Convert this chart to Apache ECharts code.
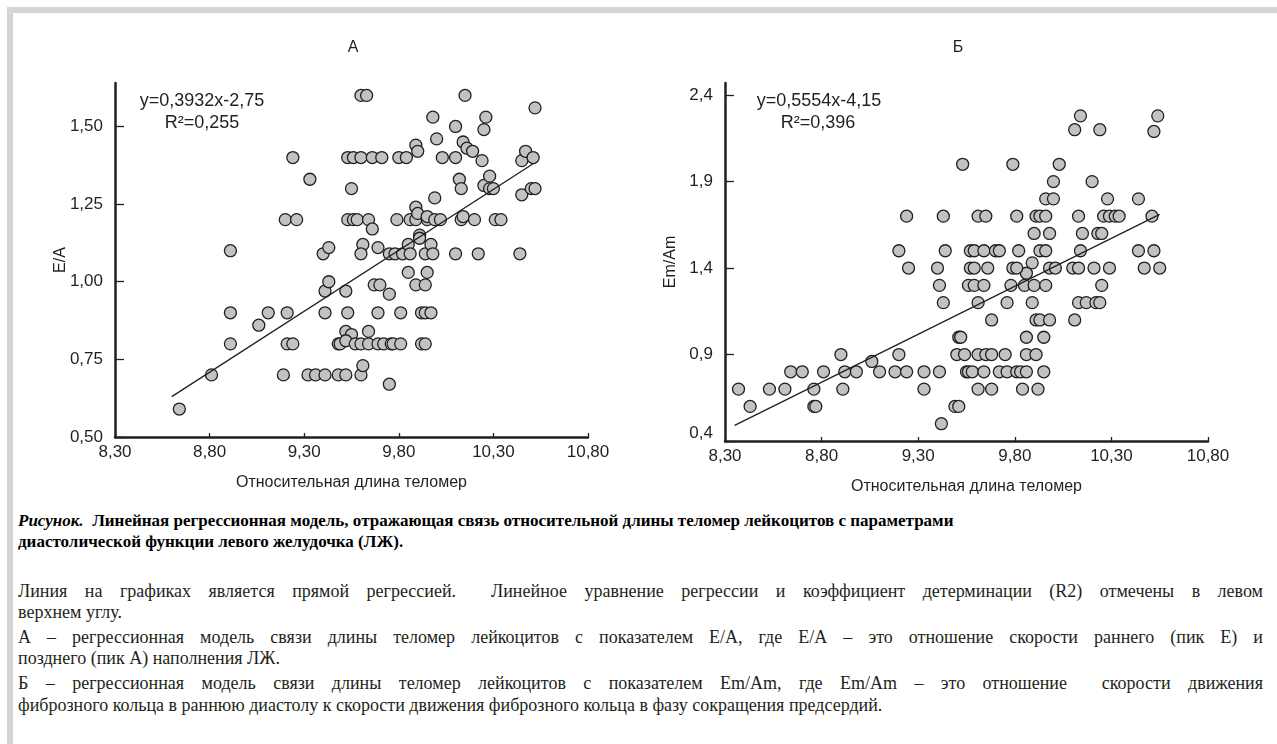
<!DOCTYPE html>
<html>
<head>
	<meta charset="utf-8">
	<title>Теломеры и диастолическая функция</title>
	<script src="https://cdn.jsdelivr.net/npm/echarts@6/dist/echarts.min.js"></script>
	<style type="text/css">
		* {
			margin: 0;
			padding: 0;
		}

		body {
			width: 1277px;
			height: 744px;
			overflow: hidden;
			background: #fff;
			position: relative;
		}

		.frameTop {
			position: absolute;
			left: 7px;
			top: 7px;
			width: 1270px;
			height: 6px;
			background: #d5d5d5;
		}

		.frameLeft {
			position: absolute;
			left: 7px;
			top: 7px;
			width: 6px;
			height: 737px;
			background: #d5d5d5;
		}

		#main {
			position: absolute;
			left: 0;
			top: 0;
			width: 1277px;
			height: 500px;
		}

		.ln {
			position: absolute;
			left: 18px;
			width: 1245px;
			font-family: 'Liberation Serif', 'DejaVu Serif', serif;
			font-size: 18px;
			line-height: 20px;
			color: #231f20;
			white-space: nowrap;
		}

		.j {
			text-align: justify;
			text-align-last: justify;
			white-space: normal;
		}

		.cap {
			font-size: 17px;
			font-weight: bold;
			color: #000;
		}
	</style>
</head>
<body>
<div class="frameTop"></div>
<div class="frameLeft"></div>
<div id="main"></div>

<div class="ln cap" style="top:511px"><i>Рисунок.</i>&nbsp; Линейная регрессионная модель, отражающая связь относительной длины теломер лейкоцитов с параметрами</div>
<div class="ln cap" style="top:532px">диастолической функции левого желудочка (ЛЖ).</div>

<div class="ln j" style="top:581px">Линия на графиках является прямой регрессией.&nbsp; Линейное уравнение регрессии и коэффициент детерминации (R2) отмечены в левом</div>
<div class="ln" style="top:602px">верхнем углу.</div>
<div class="ln j" style="top:627px">А – регрессионная модель связи длины теломер лейкоцитов с показателем Е/А, где Е/А – это отношение скорости раннего (пик Е) и</div>
<div class="ln" style="top:648px">позднего (пик А) наполнения ЛЖ.</div>
<div class="ln j" style="top:673px">Б – регрессионная модель связи длины теломер лейкоцитов с показателем Em/Am, где Em/Am – это отношение&nbsp; скорости движения</div>
<div class="ln" style="top:695px">фиброзного кольца в раннюю диастолу к скорости движения фиброзного кольца в фазу сокращения предсердий.</div>
</body>
<script type="text/javascript">
    // ---- данные ----
    var ticksX = [8.3, 8.8, 9.3, 9.8, 10.3, 10.8];
    var ticksYA = [0.5, 0.75, 1.0, 1.25, 1.5];
    var ticksYB = [0.4, 0.9, 1.4, 1.9, 2.4];

    // А: длина теломер / E/A
    var pointsA = [
        [8.64, 0.59], [8.81, 0.70], [8.91, 0.90], [8.91, 0.80], [8.91, 1.10],
        [9.06, 0.86], [9.11, 0.90], [9.19, 0.70], [9.20, 1.20], [9.21, 0.90],
        [9.21, 0.80], [9.24, 0.80], [9.24, 1.40], [9.26, 1.20], [9.33, 1.33],
        [9.32, 0.70], [9.36, 0.70], [9.40, 1.09], [9.43, 1.11], [9.41, 0.97],
        [9.43, 1.00], [9.41, 0.90], [9.41, 0.70], [9.48, 0.70], [9.52, 0.70],
        [9.48, 0.80], [9.49, 0.80], [9.52, 0.97], [9.53, 0.90], [9.52, 0.84],
        [9.55, 0.83], [9.52, 0.81], [9.57, 0.80], [9.55, 1.30], [9.53, 1.40],
        [9.56, 1.40], [9.60, 1.40], [9.60, 1.60], [9.63, 1.60], [9.53, 1.20],
        [9.56, 1.20], [9.58, 1.20], [9.64, 1.20], [9.66, 1.17], [9.61, 1.12],
        [9.60, 1.09], [9.69, 1.11], [9.60, 0.70], [9.61, 0.73], [9.64, 0.84],
        [9.60, 0.80], [9.64, 0.80], [9.66, 1.40], [9.67, 0.99], [9.70, 0.99],
        [9.69, 0.90], [9.69, 0.80], [9.72, 0.80], [9.71, 1.40], [9.75, 0.96],
        [9.75, 0.67], [9.76, 0.80], [9.77, 0.80], [9.75, 1.09], [9.78, 1.09],
        [9.79, 1.20], [9.80, 1.40], [9.81, 0.80], [9.81, 0.90], [9.82, 1.09],
        [9.84, 1.40], [9.85, 1.03], [9.85, 1.12], [9.86, 1.09], [9.86, 1.20],
        [9.89, 1.20], [9.89, 1.24], [9.90, 1.22], [9.89, 1.44], [9.90, 1.42],
        [9.89, 0.99], [9.91, 1.15], [9.91, 1.14], [9.92, 0.90], [9.92, 0.80],
        [9.94, 0.99], [9.94, 0.90], [9.94, 0.80], [9.94, 1.09], [9.95, 1.20],
        [9.95, 1.21], [9.95, 1.03], [9.97, 0.90], [9.97, 1.12], [9.98, 1.09],
        [9.98, 1.53], [9.99, 1.27], [9.99, 1.20], [10.00, 1.46], [10.02, 1.20],
        [10.03, 1.40], [10.10, 1.50], [10.10, 1.40], [10.10, 1.09], [10.12, 1.33],
        [10.13, 1.30], [10.13, 1.20], [10.14, 1.21], [10.14, 1.45], [10.15, 1.60],
        [10.16, 1.43], [10.19, 1.42], [10.20, 1.20], [10.22, 1.09], [10.24, 1.39],
        [10.25, 1.49], [10.26, 1.53], [10.25, 1.31], [10.28, 1.34], [10.28, 1.30],
        [10.30, 1.30], [10.31, 1.20], [10.34, 1.20], [10.44, 1.09], [10.45, 1.39],
        [10.45, 1.28], [10.47, 1.42], [10.50, 1.30], [10.51, 1.40], [10.52, 1.30],
        [10.52, 1.56]
    ];

    // Б: длина теломер / Em/Am
    var pointsB = [
        [10.14, 2.28], [10.54, 2.28],
        [10.11, 2.20], [10.24, 2.20], [10.52, 2.19],
        [9.53, 2.00], [9.79, 2.00], [10.03, 2.00],
        [10.00, 1.90], [10.20, 1.90],
        [9.96, 1.80], [10.00, 1.80], [10.28, 1.80], [10.44, 1.80],
        [9.24, 1.70], [9.43, 1.70], [9.61, 1.70], [9.65, 1.70], [9.81, 1.70], [9.91, 1.70], [9.93, 1.70],
        [9.96, 1.70], [10.13, 1.70], [10.26, 1.70], [10.29, 1.70], [10.32, 1.70], [10.34, 1.70], [10.51, 1.70],
        [9.90, 1.60], [9.98, 1.60], [10.15, 1.60], [10.23, 1.60], [10.25, 1.60],
        [9.20, 1.50], [9.44, 1.50], [9.57, 1.50], [9.59, 1.50], [9.64, 1.50], [9.70, 1.50], [9.72, 1.50],
        [9.82, 1.50], [9.93, 1.50], [9.96, 1.50], [10.14, 1.50], [10.44, 1.50], [10.52, 1.50],
        [9.89, 1.43], [9.86, 1.37],
        [9.25, 1.40], [9.40, 1.40], [9.57, 1.40], [9.59, 1.40], [9.66, 1.40], [9.79, 1.40], [9.81, 1.40],
        [9.98, 1.40], [10.01, 1.40], [10.10, 1.40], [10.13, 1.40], [10.21, 1.40], [10.29, 1.40], [10.47, 1.40], [10.55, 1.40],
        [9.41, 1.30], [9.56, 1.30], [9.59, 1.30], [9.64, 1.30], [9.78, 1.30], [9.85, 1.30], [9.90, 1.30], [9.96, 1.30], [10.25, 1.30],
        [9.43, 1.20], [9.61, 1.20], [9.76, 1.20], [9.89, 1.20], [10.13, 1.20], [10.17, 1.20], [10.22, 1.20], [10.24, 1.20],
        [9.68, 1.10], [9.91, 1.10], [9.93, 1.10], [9.98, 1.10], [10.11, 1.10],
        [9.51, 1.00], [9.52, 1.00], [9.86, 1.00], [9.95, 1.00],
        [8.90, 0.90], [9.20, 0.90], [9.50, 0.90], [9.54, 0.90], [9.61, 0.90], [9.65, 0.90], [9.68, 0.90],
        [9.75, 0.90], [9.86, 0.90], [9.91, 0.90],
        [9.06, 0.86],
        [8.64, 0.80], [8.70, 0.80], [8.81, 0.80], [8.92, 0.80], [8.98, 0.80], [9.10, 0.80], [9.18, 0.80],
        [9.24, 0.80], [9.33, 0.80], [9.41, 0.80], [9.55, 0.80], [9.56, 0.80], [9.58, 0.80], [9.64, 0.80],
        [9.72, 0.80], [9.76, 0.80], [9.81, 0.80], [9.83, 0.80], [9.86, 0.80], [9.95, 0.80],
        [8.37, 0.70], [8.53, 0.70], [8.61, 0.70], [8.76, 0.70], [8.91, 0.70], [9.33, 0.70], [9.61, 0.70],
        [9.68, 0.70], [9.84, 0.70], [9.92, 0.70],
        [8.43, 0.60], [8.76, 0.60], [8.77, 0.60], [9.49, 0.60], [9.51, 0.60],
        [9.42, 0.50]
    ];

    // концы линий регрессии
    var lineA = [[8.60, 0.63], [10.51, 1.38]];
    var lineB = [[8.35, 0.49], [10.55, 1.71]];

    var ink = '#231f20';
    var font = 'Liberation Sans';

    function fmt(v, d) {
        return v.toFixed(d).replace('.', ',');
    }

    function xAxisCfg(gridIndex) {
        return {
            gridIndex: gridIndex,
            type: 'value',
            min: 8.3,
            max: 10.8,
            name: 'Относительная длина теломер',
            nameLocation: 'middle',
            nameGap: 38,
            nameMoveOverlap: false,
            nameTextStyle: {color: ink, fontFamily: font, fontSize: 16},
            splitLine: {show: false},
            axisLine: {lineStyle: {color: ink, width: 2.5}},
            axisTick: {inside: true, length: 4, customValues: ticksX, lineStyle: {color: ink, width: 1.3}},
            axisLabel: {
                customValues: ticksX, margin: 7, color: ink, fontFamily: font, fontSize: 17,
                formatter: function (v) { return fmt(v, 2); }
            }
        };
    }

    function yAxisCfg(gridIndex, name, min, max, ticks, dec) {
        return {
            gridIndex: gridIndex,
            type: 'value',
            min: min,
            max: max,
            name: name,
            nameLocation: 'middle',
            nameRotate: 90,
            nameGap: 46,
            nameMoveOverlap: false,
            nameTextStyle: {color: ink, fontFamily: font, fontSize: 16},
            splitLine: {show: false},
            axisLine: {lineStyle: {color: ink, width: 2.5}},
            axisTick: {inside: true, length: 9, customValues: ticks, lineStyle: {color: ink, width: 1.3}},
            axisLabel: {
                customValues: ticks, margin: 12, color: ink, fontFamily: font, fontSize: 17,
                formatter: function (v) {
                    // нижняя подпись на графике Б чуть приподнята
                    if (dec === 1 && Math.abs(v - min) < 1e-6) return '{low|' + fmt(v, dec) + '}';
                    return fmt(v, dec);
                },
                rich: {low: {fontFamily: font, fontSize: 17, color: ink, padding: [0, 0, 16, 0]}}
            }
        };
    }

    function dots(idx, data) {
        return {
            type: 'scatter',
            xAxisIndex: idx,
            yAxisIndex: idx,
            data: data,
            symbol: 'circle',
            symbolSize: 12,
            itemStyle: {color: '#c1c2c4', borderColor: ink, borderWidth: 1.3, opacity: 1},
            z: 3
        };
    }

    function regLine(idx, data) {
        return {
            type: 'line',
            xAxisIndex: idx,
            yAxisIndex: idx,
            data: data,
            symbol: 'none',
            lineStyle: {color: ink, width: 1.3},
            z: 4
        };
    }

    function label(x, y, text, size) {
        return {
            type: 'text',
            x: x,
            y: y,
            style: {text: text, fill: ink, font: size + 'px ' + font, textAlign: 'center', textVerticalAlign: 'middle'}
        };
    }

    var myChart = echarts.init(document.getElementById('main'));
    var option = {
        animation: false,
        backgroundColor: 'transparent',
        grid: [
            {left: 115, top: 83, width: 473, height: 354},
            {left: 725, top: 83, width: 483, height: 358}
        ],
        xAxis: [xAxisCfg(0), xAxisCfg(1)],
        yAxis: [
            yAxisCfg(0, 'E/A', 0.5, 1.64, ticksYA, 2),
            yAxisCfg(1, 'Em/Am', 0.4, 2.47, ticksYB, 1)
        ],
        graphic: [
            label(353, 48, 'А', 16),
            label(958, 48, 'Б', 16),
            label(202, 101, 'y=0,3932x-2,75', 18),
            label(202, 123, 'R²=0,255', 18),
            label(819, 101, 'y=0,5554x-4,15', 18),
            label(818, 123, 'R²=0,396', 18)
        ],
        series: [
            dots(0, pointsA),
            regLine(0, lineA),
            dots(1, pointsB),
            regLine(1, lineB)
        ]
    };
    myChart.setOption(option);
</script>
</html>
